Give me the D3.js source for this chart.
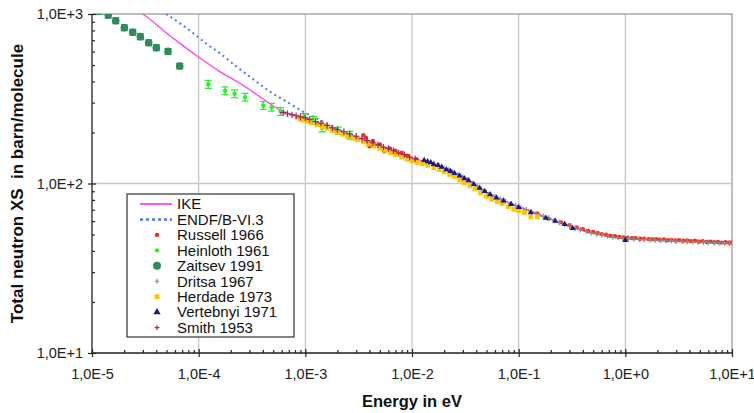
<!DOCTYPE html>
<html>
<head>
<meta charset="utf-8">
<script src="https://cdn.jsdelivr.net/npm/d3@7"></script>
<style>
  body { margin: 0; background: #fff; }
  svg { font-family: Arial, "Liberation Sans", sans-serif; }
</style>
</head>
<body>
<svg id="chart" width="754" height="413"></svg>
<script>
// energy in eV, total cross section in barn/molecule
const xTickValues = [1e-5, 1e-4, 1e-3, 1e-2, 1e-1, 1, 10];
const xTickLabels = ["1,0E-5", "1,0E-4", "1,0E-3", "1,0E-2", "1,0E-1", "1,0E+0", "1,0E+1"];
const yTickValues = [10, 100, 1000];
const yTickLabels = ["1,0E+1", "1,0E+2", "1,0E+3"];

const legendLabels = ["IKE", "ENDF/B-VI.3", "Russell 1966", "Heinloth 1961", "Zaitsev 1991",
  "Dritsa 1967", "Herdade 1973", "Vertebnyi 1971", "Smith 1953"];

// evaluated curves [E, sigma]
const ike = [[2.62e-5, 1056], [3.26e-5, 964], [5.01e-5, 770], [6.68e-5, 671], [9.9e-5, 560],
  [1.58e-4, 457], [2.44e-4, 390], [3.76e-4, 325], [5.78e-4, 272], [7.65e-4, 254], [1e-3, 243],
  [1.5e-3, 222], [2e-3, 207], [3e-3, 189], [5e-3, 167], [7e-3, 154], [1e-2, 141], [1.5e-2, 132],
  [2e-2, 123], [3e-2, 109], [4e-2, 97], [5e-2, 88], [7e-2, 80], [0.1, 72.7], [0.15, 66],
  [0.2, 61.7], [0.3, 56.2], [0.5, 51], [0.7, 49], [1, 47.5], [2, 46.4], [5, 45.6], [10, 44.9]];

const endf = [[4.94e-5, 1000], [6.68e-5, 881], [8.9e-5, 770], [1.145e-4, 678], [1.58e-4, 587],
  [2.27e-4, 489], [3.25e-4, 412], [4.66e-4, 348], [6.68e-4, 304], [9.55e-4, 265], [1.37e-3, 237],
  [2e-3, 209], [3e-3, 189], [5e-3, 167], [7e-3, 154], [1e-2, 141], [1.5e-2, 132], [2e-2, 123],
  [3e-2, 109], [4e-2, 97], [5e-2, 88], [7e-2, 80], [0.1, 72.7], [0.15, 66], [0.2, 61.7],
  [0.3, 56.2], [0.5, 51], [0.7, 49], [1, 47.5], [2, 46.4], [5, 45.6], [10, 44.9]];

// measurements [E, sigma] or [E, sigma, error]
const russell = [[3.5e-3, 193], [3.7e-3, 186], [4.0e-3, 166], [4.3e-3, 178], [5.0e-3, 170],
  [5.5e-3, 155], [6.2e-3, 161], [7.0e-3, 156], [8.0e-3, 152], [9.0e-3, 146], [1.1e-2, 139],
  [1.4e-2, 133], [2.2e-2, 120], [0.15, 66.5], [0.19, 62], [0.25, 59], [0.3, 56.8], [0.35, 55],
  [0.4, 53.8], [0.45, 52.5], [0.5, 51.7], [0.55, 51], [0.6, 50.3], [0.66, 49.8], [0.72, 49.2],
  [0.8, 48.8], [0.88, 48.4], [0.96, 48.1], [1.05, 47.9], [1.15, 47.6], [1.25, 47.6], [1.38, 47.2],
  [1.5, 47.3], [1.65, 47.0], [1.8, 46.8], [1.95, 47.0], [2.1, 46.6], [2.3, 46.7], [2.5, 46.3],
  [2.7, 46.5], [2.95, 46.1], [3.2, 46.3], [3.5, 45.9], [3.8, 46.1], [4.1, 45.7], [4.5, 45.9],
  [4.9, 45.4], [5.3, 45.7], [5.8, 45.2], [6.3, 45.4], [6.8, 45.0], [7.4, 45.2], [8.0, 44.8],
  [8.7, 45.0], [9.4, 44.7], [10, 44.9]];

const heinloth = [[1.23e-4, 385, 21], [1.77e-4, 353, 19], [2.17e-4, 339, 18], [2.72e-4, 323, 17],
  [4.03e-4, 289, 15], [4.83e-4, 282, 15], [5.86e-4, 266, 14], [9.7e-4, 246, 12], [1.19e-3, 237, 12],
  [1.44e-3, 213, 11], [2.03e-3, 205, 10], [2.62e-3, 193, 10]];

const zaitsev = [[1.17e-5, 1040, 40], [1.42e-5, 987, 40], [1.67e-5, 913, 35], [2.01e-5, 830, 32],
  [2.41e-5, 780, 30], [2.84e-5, 735, 28], [3.40e-5, 677, 26], [4.01e-5, 633, 24],
  [5.16e-5, 602, 23], [6.64e-5, 493, 19]];

const dritsa = [[1.8e-2, 127], [2.0e-2, 123], [2.2e-2, 120], [2.4e-2, 117], [2.7e-2, 113],
  [3.0e-2, 109], [3.3e-2, 105], [3.7e-2, 100], [4.1e-2, 96], [4.5e-2, 92], [5.0e-2, 88.5],
  [5.5e-2, 85.5], [6.0e-2, 83.5], [6.7e-2, 81], [7.5e-2, 78.5], [8.4e-2, 76], [9.4e-2, 74],
  [0.105, 72], [0.118, 70], [0.132, 68], [0.15, 66], [0.17, 64], [0.19, 62.5], [0.215, 60.5],
  [0.24, 59], [0.27, 57.5], [0.3, 56], [0.34, 54.5], [0.38, 53.3], [0.43, 52.2], [0.48, 51.2],
  [0.54, 50.4], [0.6, 49.7], [0.68, 49], [0.76, 48.5], [0.85, 48], [0.95, 47.6], [1.07, 47.3],
  [1.2, 47.1], [1.35, 46.9], [1.5, 46.8], [1.7, 46.5], [1.9, 46.3], [2.15, 46.2], [2.4, 46.0],
  [2.7, 45.9], [3.0, 45.7], [3.4, 45.6], [3.8, 45.5], [4.3, 45.3], [4.8, 45.2], [5.4, 45.1],
  [6.0, 44.9], [6.8, 44.8], [7.6, 44.7], [8.5, 44.6], [9.5, 44.5]];

const herdade = [[8.4e-4, 246], [9.0e-4, 240], [9.6e-4, 236], [1.05e-3, 233], [1.15e-3, 228],
  [1.3e-3, 222], [1.45e-3, 216], [1.6e-3, 212], [1.8e-3, 205], [2.0e-3, 200], [2.25e-3, 195],
  [2.5e-3, 190], [2.8e-3, 185], [3.1e-3, 181], [3.5e-3, 176], [3.9e-3, 171], [4.4e-3, 166],
  [5.0e-3, 161], [5.6e-3, 157], [6.3e-3, 152], [7.0e-3, 148], [8.0e-3, 143], [9.0e-3, 139],
  [1.0e-2, 136], [1.12e-2, 133], [1.25e-2, 131], [1.4e-2, 128], [1.6e-2, 124], [1.8e-2, 121],
  [2.0e-2, 117], [2.25e-2, 113], [2.5e-2, 110], [2.8e-2, 105], [3.1e-2, 101], [3.5e-2, 97],
  [3.9e-2, 93], [4.4e-2, 88], [5.0e-2, 84], [5.6e-2, 80.5], [6.3e-2, 78], [7.0e-2, 76],
  [8.0e-2, 73], [9.0e-2, 70.5], [0.1, 69], [0.113, 67.5], [0.13, 63.5], [0.15, 63.5]];

const vertebnyi = [[1.3e-2, 137], [1.4e-2, 135], [1.5e-2, 133], [1.6e-2, 130], [1.75e-2, 128],
  [1.9e-2, 125], [2.1e-2, 121], [2.3e-2, 118], [2.5e-2, 115], [2.8e-2, 111], [3.1e-2, 107],
  [3.4e-2, 104], [3.8e-2, 99], [4.3e-2, 94], [4.8e-2, 90], [5.4e-2, 86], [6.2e-2, 82.5],
  [7.2e-2, 79], [8.5e-2, 75.5], [0.1, 72.5], [0.13, 67.5], [0.18, 62.5], [0.22, 60],
  [0.27, 57.5], [0.32, 54.5], [1.0, 46.2]];

const smith = [[6.2e-4, 262], [6.8e-4, 258], [7.5e-4, 254], [8.2e-4, 251], [9e-4, 247],
  [1.0e-3, 244], [1.1e-3, 239], [1.25e-3, 232], [1.4e-3, 227], [1.6e-3, 220], [1.8e-3, 213],
  [2.0e-3, 208], [2.3e-3, 202], [2.6e-3, 196], [3.0e-3, 190], [3.4e-3, 184], [3.8e-3, 179],
  [4.3e-3, 174], [4.8e-3, 169], [5.4e-3, 164], [6.0e-3, 161], [6.7e-3, 156], [7.5e-3, 151],
  [8.5e-3, 148], [9.5e-3, 143], [1.07e-2, 140]];

const margin = {top: 14, right: 22, bottom: 60, left: 92};
const width = 754, height = 413;

const x = d3.scaleLog().domain([1e-5, 10]).range([margin.left, width - margin.right]);
const y = d3.scaleLog().domain([10, 1000]).range([height - margin.bottom, margin.top]);
const [x0, x1] = x.range();
const [y0, y1] = y.range();

const svg = d3.select("#chart");

svg.append("defs").append("clipPath").attr("id", "plot-clip")
  .append("rect").attr("x", x0).attr("y", y1).attr("width", x1 - x0).attr("height", y0 - y1);

// gridlines
svg.append("g")
    .attr("stroke", "#c8c8c8")
    .attr("stroke-width", 1.3)
  .call(g => g.selectAll(".vx").data(xTickValues.slice(1, -1)).join("line")
    .attr("x1", d => x(d)).attr("x2", d => x(d)).attr("y1", y1).attr("y2", y0))
  .call(g => g.selectAll(".hy").data(yTickValues.slice(1, -1)).join("line")
    .attr("y1", d => y(d)).attr("y2", d => y(d)).attr("x1", x0).attr("x2", x1));

svg.append("path")
    .attr("d", `M${x0},${y1}H${x1}V${y0}`)
    .attr("fill", "none")
    .attr("stroke", "#a8a8a8")
    .attr("stroke-width", 1.5);

// minor tick values
const minorX = xTickValues.slice(0, -1).flatMap(d => d3.range(2, 10).map(k => d * k));
const minorY = yTickValues.slice(0, -1).flatMap(d => d3.range(2, 10).map(k => d * k));

function styleAxis(g) {
  g.select(".domain").remove();
  g.selectAll("line").attr("stroke", "#222").attr("stroke-width", 1.2);
  g.selectAll("text").attr("fill", "#222").attr("font-size", 14.5)
    .attr("font-family", "Arial, 'Liberation Sans', sans-serif");
}

// bottom axis
svg.append("g").attr("transform", `translate(0,${y0})`)
  .call(d3.axisBottom(x).tickValues(minorX).tickSize(-3).tickFormat(""))
  .call(styleAxis);
svg.append("g").attr("transform", `translate(0,${y0})`)
  .call(d3.axisBottom(x).tickValues(xTickValues).tickSize(-4).tickFormat(""))
  .call(styleAxis);
svg.append("g").attr("transform", `translate(0,${y0})`)
  .call(d3.axisBottom(x).tickValues(xTickValues).tickSize(4).tickPadding(12)
    .tickFormat((d, i) => xTickLabels[i]))
  .call(styleAxis);

// left axis
svg.append("g").attr("transform", `translate(${x0},0)`)
  .call(d3.axisLeft(y).tickValues(minorY).tickSize(-3).tickFormat(""))
  .call(styleAxis);
svg.append("g").attr("transform", `translate(${x0},0)`)
  .call(d3.axisLeft(y).tickValues(yTickValues).tickSize(-4).tickFormat(""))
  .call(styleAxis);
svg.append("g").attr("transform", `translate(${x0},0)`)
  .call(d3.axisLeft(y).tickValues(yTickValues).tickSize(4).tickPadding(5)
    .tickFormat((d, i) => yTickLabels[i]))
  .call(styleAxis);

svg.append("path")
    .attr("d", `M${x0},${y1}V${y0}H${x1}`)
    .attr("fill", "none")
    .attr("stroke", "#222")
    .attr("stroke-width", 1.3);

// axis titles
svg.append("text")
    .attr("x", (x0 + x1) / 2)
    .attr("y", 407)
    .attr("text-anchor", "middle")
    .attr("font-weight", "bold")
    .attr("font-size", 16.5)
    .attr("fill", "#111")
    .text("Energy in eV");

svg.append("text")
    .attr("transform", `translate(23,${(y0 + y1) / 2}) rotate(-90)`)
    .attr("text-anchor", "middle")
    .attr("font-weight", "bold")
    .attr("font-size", 17)
    .attr("fill", "#111")
    .style("white-space", "pre")
    .text("Total neutron XS  in barn/molecule");

// marker shapes
const plus = s => `M${-s},0H${s}M0,${-s}V${s}`;
const markers = {
  dot: (g, c, r) => g.append("circle").attr("r", r).attr("fill", c),
  square: (g, c, r) => g.append("rect").attr("x", -r).attr("y", -r).attr("width", 2 * r).attr("height", 2 * r).attr("fill", c),
  tri: (g, c, r) => g.append("path").attr("d", d3.symbol(d3.symbolTriangle, r * r * 4)()).attr("fill", c),
  plus: (g, c, r) => g.append("path").attr("d", plus(r)).attr("stroke", c).attr("stroke-width", 1.2).attr("fill", "none")
};

const series = [
  {name: legendLabels[0], type: "line", data: ike, color: "#ff44f0", dash: null, width: 1.3},
  {name: legendLabels[1], type: "line", data: endf, color: "#4a78f0", dash: "2,3.4", width: 2},
  {name: legendLabels[2], type: "points", data: russell, color: "#ff2a10", shape: "dot", size: 2.2},
  {name: legendLabels[3], type: "points", data: heinloth, color: "#2cf02c", shape: "dot", size: 2.2, cap: 3.5},
  {name: legendLabels[4], type: "points", data: zaitsev, color: "#2e8b5c", shape: "dot", size: 3.8, cap: 3.5},
  {name: legendLabels[5], type: "points", data: dritsa, color: "#8c8c8c", shape: "plus", size: 2.8},
  {name: legendLabels[6], type: "points", data: herdade, color: "#ffc400", shape: "square", size: 2.4},
  {name: legendLabels[7], type: "points", data: vertebnyi, color: "#1a1a80", shape: "tri", size: 2.0},
  {name: legendLabels[8], type: "points", data: smith, color: "#9a2a60", shape: "plus", size: 3.2}
];

const plot = svg.append("g").attr("clip-path", "url(#plot-clip)");
const line = d3.line().x(d => x(d[0])).y(d => y(d[1])).curve(d3.curveMonotoneX);

for (const s of series) {
  if (s.type === "line") {
    plot.append("path")
        .attr("d", line(s.data))
        .attr("fill", "none")
        .attr("stroke", s.color)
        .attr("stroke-width", s.width)
        .attr("stroke-dasharray", s.dash);
  } else {
    const g = plot.append("g");
    if (s.cap) {
      g.selectAll(".err").data(s.data).join("path")
          .attr("d", d => {
            const cx = x(d[0]), ya = y(d[1] + d[2]), yb = y(d[1] - d[2]);
            return `M${cx},${ya}V${yb}M${cx - s.cap},${ya}H${cx + s.cap}M${cx - s.cap},${yb}H${cx + s.cap}`;
          })
          .attr("stroke", s.color)
          .attr("stroke-width", 1.3)
          .attr("fill", "none");
    }
    g.selectAll(".pt").data(s.data).join("g")
        .attr("transform", d => `translate(${x(d[0])},${y(d[1])})`)
        .each(function() { markers[s.shape](d3.select(this), s.color, s.size); });
  }
}

// legend
const legend = svg.append("g").attr("transform", "translate(127,194)");
legend.append("rect")
    .attr("width", 167)
    .attr("height", 143)
    .attr("fill", "#fff")
    .attr("stroke", "#333")
    .attr("stroke-width", 1.2);

const rows = legend.selectAll(".row").data(series).join("g")
    .attr("transform", (d, i) => `translate(0,${10 + i * 15.45})`);

rows.each(function(s) {
  const r = d3.select(this);
  if (s.type === "line") {
    r.append("line").attr("x1", 13).attr("x2", 45)
      .attr("stroke", s.color).attr("stroke-width", s.width + 0.5)
      .attr("stroke-dasharray", s.dash ? "3,3" : null);
  } else {
    const m = r.append("g").attr("transform", "translate(30,0)");
    markers[s.shape](m, s.color, s.shape === "dot" ? (s.size > 3 ? 4 : 2.2) : 2.4);
  }
  r.append("text")
    .attr("x", 50)
    .attr("y", 5.3)
    .attr("font-size", 15)
    .attr("fill", "#111")
    .text(s.name);
});
</script>
</body>
</html>
